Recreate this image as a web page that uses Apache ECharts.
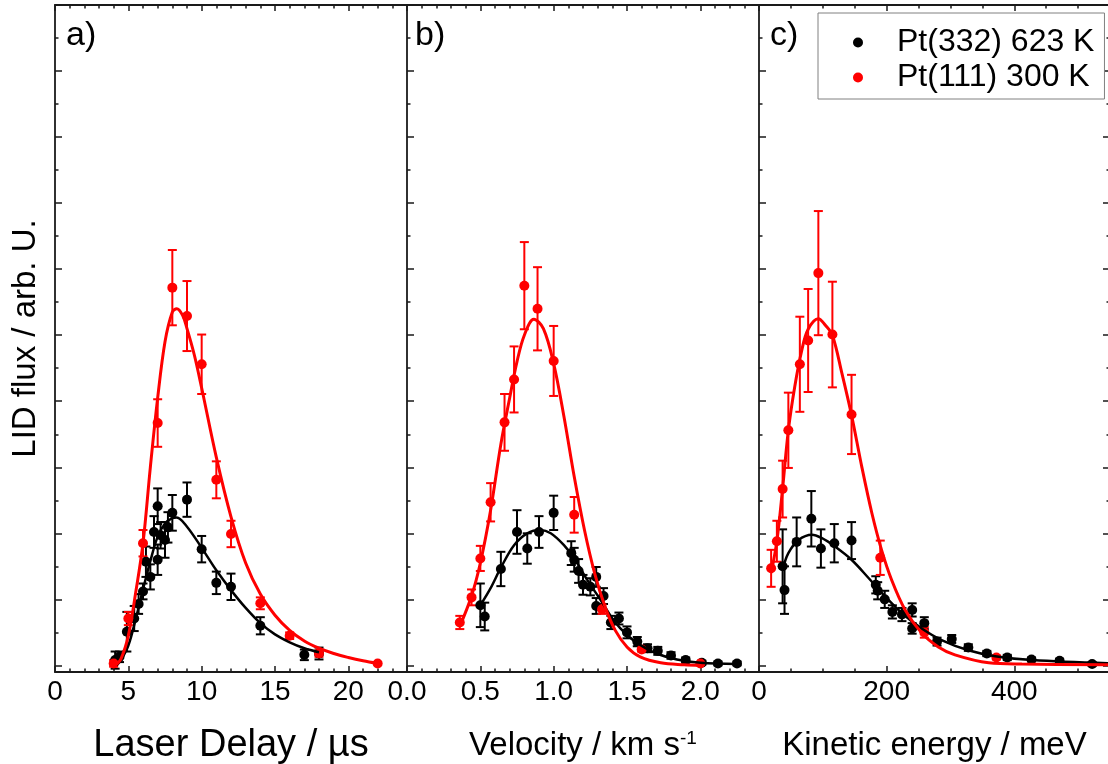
<!DOCTYPE html>
<html><head><meta charset="utf-8">
<script src="https://cdn.jsdelivr.net/npm/echarts@6/dist/echarts.min.js"></script>
<style>html,body{margin:0;padding:0;background:#fff}#c{width:1108px;height:764px}</style>
</head><body><div id="c"></div>
<script>
// ---------- Panel a: laser delay (µs) ----------
const delayX_332   = [4.1, 4.4, 4.9, 5.4, 5.7, 6.0, 6.2, 6.5, 6.75, 7.0, 7.0, 7.2, 7.5, 7.7, 8.0, 9.0, 10.0, 11.0, 12.0, 14.0, 17.0, 18.0];
const delayY_332   = [0.08, 0.13, 0.51, 0.71, 0.93, 1.12, 1.57, 1.34, 2.02, 2.41, 1.60, 1.97, 1.90, 2.09, 2.31, 2.51, 1.76, 1.25, 1.19, 0.60, 0.16, 0.18];
const delayErr_332 = [0.13, 0.08, 0.30, 0.19, 0.15, 0.12, 0.23, 0.19, 0.24, 0.27, 0.23, 0.20, 0.27, 0.23, 0.27, 0.26, 0.20, 0.17, 0.20, 0.13, 0.08, 0.09];
const delayX_111   = [4.0, 5.0, 6.0, 7.0, 8.0, 9.0, 10.0, 11.0, 12.0, 14.0, 16.0, 18.0, 22.0];
const delayY_111   = [0.03, 0.71, 1.85, 3.67, 5.72, 5.29, 4.56, 2.81, 1.99, 0.94, 0.45, 0.18, 0.03];
const delayErr_111 = [0.05, 0.10, 0.20, 0.36, 0.57, 0.53, 0.45, 0.28, 0.20, 0.09, 0.05, 0.05, 0.0];
const delayFitX_332 = [4.2, 4.5, 5.0, 5.5, 6.0, 6.5, 7.0, 7.5, 8.0, 8.3, 9.0, 10.0, 11.0, 12.0, 13.0, 14.0, 15.0, 16.0, 17.0, 18.0];
const delayFitY_332 = [0.0, 0.08, 0.30, 0.70, 1.15, 1.58, 1.95, 2.15, 2.23, 2.24, 2.10, 1.78, 1.44, 1.14, 0.87, 0.64, 0.47, 0.35, 0.26, 0.20];
const delayFitX_111 = [4.1, 4.5, 5.0, 5.5, 6.0, 6.5, 7.0, 7.5, 8.0, 8.3, 8.7, 9.0, 9.5, 10.0, 11.0, 12.0, 13.0, 14.0, 15.0, 16.0, 17.0, 18.0, 19.0, 20.0, 21.0, 22.0];
const delayFitY_111 = [0.0, 0.10, 0.45, 1.10, 1.85, 3.00, 4.05, 4.90, 5.35, 5.40, 5.30, 5.10, 4.70, 4.20, 3.15, 2.25, 1.55, 1.08, 0.76, 0.53, 0.37, 0.26, 0.18, 0.12, 0.07, 0.03];

// ---------- Panel b: velocity (km/s) ----------
const velX_332   = [0.50, 0.53, 0.64, 0.75, 0.82, 0.90, 1.00, 1.12, 1.14, 1.17, 1.20, 1.25, 1.29, 1.29, 1.34, 1.39, 1.445, 1.50, 1.57, 1.64, 1.71, 1.80, 1.90, 2.01, 2.12, 2.25];
const velY_332   = [0.91, 0.74, 1.46, 2.02, 1.77, 2.02, 2.31, 1.70, 1.60, 1.43, 1.22, 1.19, 1.34, 0.90, 1.05, 0.65, 0.71, 0.50, 0.36, 0.26, 0.22, 0.15, 0.08, 0.04, 0.03, 0.03];
const velErr_332 = [0.33, 0.21, 0.26, 0.33, 0.23, 0.24, 0.26, 0.18, 0.18, 0.18, 0.15, 0.13, 0.15, 0.12, 0.12, 0.10, 0.09, 0.09, 0.07, 0.06, 0.06, 0.05, 0.04, 0.03, 0.03, 0.03];
const velX_111   = [0.36, 0.44, 0.50, 0.57, 0.665, 0.73, 0.80, 0.89, 1.00, 1.14, 1.33, 1.60, 2.00];
const velY_111   = [0.65, 1.03, 1.62, 2.47, 3.68, 4.33, 5.75, 5.40, 4.61, 2.28, 0.85, 0.24, 0.03];
const velErr_111 = [0.10, 0.12, 0.19, 0.29, 0.43, 0.50, 0.66, 0.63, 0.53, 0.27, 0.07, 0.03, 0.02];
const velFitX_332 = [0.50, 0.57, 0.64, 0.73, 0.82, 0.91, 0.98, 1.07, 1.14, 1.23, 1.32, 1.41, 1.50, 1.59, 1.70, 1.84, 2.00, 2.25];
const velFitY_332 = [0.91, 1.17, 1.48, 1.82, 2.00, 2.05, 2.00, 1.82, 1.62, 1.29, 0.99, 0.68, 0.46, 0.31, 0.18, 0.09, 0.04, 0.02];
const velFitX_111 = [0.36, 0.44, 0.50, 0.57, 0.64, 0.70, 0.75, 0.80, 0.865, 0.93, 1.00, 1.07, 1.14, 1.21, 1.28, 1.35, 1.42, 1.50, 1.59, 1.73, 1.89, 2.00];
const velFitY_111 = [0.59, 1.05, 1.55, 2.35, 3.35, 4.05, 4.60, 5.00, 5.24, 5.10, 4.57, 3.77, 2.86, 2.05, 1.39, 0.89, 0.53, 0.28, 0.13, 0.04, 0.01, 0.0];

// ---------- Panel c: kinetic energy (meV) ----------
const enX_332   = [37, 40, 59, 82, 97, 118, 145, 183, 186, 197, 209, 224, 240, 240, 259, 279, 302, 328, 357, 389, 427, 471, 522];
const enY_332   = [1.50, 1.14, 1.87, 2.22, 1.77, 1.85, 1.89, 1.22, 1.13, 1.00, 0.81, 0.77, 0.84, 0.56, 0.64, 0.36, 0.40, 0.27, 0.18, 0.12, 0.09, 0.07, 0.02];
const enErr_332 = [0.56, 0.36, 0.37, 0.42, 0.29, 0.29, 0.28, 0.13, 0.13, 0.13, 0.10, 0.10, 0.10, 0.08, 0.09, 0.06, 0.06, 0.05, 0.04, 0.04, 0.03, 0.03, 0.03];
const enX_111   = [19, 28, 37, 46, 64, 77, 93, 115, 145, 190, 259, 372];
const enY_111   = [1.47, 1.88, 2.67, 3.56, 4.56, 4.92, 5.94, 5.01, 3.80, 1.63, 0.50, 0.12];
const enErr_111 = [0.28, 0.31, 0.43, 0.57, 0.72, 0.78, 0.94, 0.80, 0.60, 0.26, 0.08, 0.03];
const enFitX_332 = [37, 46, 62, 83, 98, 119, 145, 172, 198, 224, 255, 287, 328, 370, 428, 550];
const enFitY_332 = [1.45, 1.70, 1.90, 1.98, 1.93, 1.80, 1.60, 1.32, 1.04, 0.79, 0.56, 0.38, 0.23, 0.14, 0.08, 0.03];
const enFitX_111 = [19, 28, 37, 46, 56, 67, 77, 93, 104, 115, 130, 145, 161, 177, 192, 208, 229, 255, 281, 307, 360, 412, 550];
const enFitY_111 = [1.40, 1.88, 2.68, 3.56, 4.22, 4.77, 5.09, 5.25, 5.15, 5.00, 4.42, 3.79, 3.01, 2.30, 1.75, 1.29, 0.84, 0.49, 0.28, 0.16, 0.04, 0.02, 0.01];

// ---------- tick labels ----------
const delayTicks = [0, 5, 10, 15, 20];
const velocityTicks = [0, 0.5, 1.0, 1.5, 2.0];
const energyTicks = [0, 200, 400];
const seriesNames = ['Pt(332) 623 K', 'Pt(111) 300 K'];

const FONT = '"Liberation Sans", Arial, Helvetica, sans-serif';
const AX = '#1a1a1a';

function steps(a, b, s) { const r = []; for (let k = 0; a + k * s <= b + 1e-9; k++) r.push(+(a + k * s).toFixed(6)); return r; }
function zip2(a, b) { return a.map((v, i) => [v, b[i]]); }
function zip3(a, b, c) { return a.map((v, i) => [v, b[i], c[i]]); }

const panels = [
  { left: 55, width: 352, min: 0, max: 24, majors: delayTicks, minorStep: 1, fmt: v => String(v),
    name: 'Laser Delay / µs', nameSize: 38, nameGap: 55,
    d: [delayX_332, delayY_332, delayErr_332, delayX_111, delayY_111, delayErr_111, delayFitX_332, delayFitY_332, delayFitX_111, delayFitY_111] },
  { left: 407, width: 352, min: 0, max: 2.4, majors: velocityTicks, minorStep: 0.1, fmt: v => v.toFixed(1),
    name: 'Velocity / km s{sup|-1}', nameSize: 33, nameGap: 57,
    d: [velX_332, velY_332, velErr_332, velX_111, velY_111, velErr_111, velFitX_332, velFitY_332, velFitX_111, velFitY_111] },
  { left: 759, width: 351, min: 0, max: 550, majors: energyTicks, minorStep: 50, fmt: v => String(v),
    name: 'Kinetic energy / meV', nameSize: 33, nameGap: 57,
    d: [enX_332, enY_332, enErr_332, enX_111, enY_111, enErr_111, enFitX_332, enFitY_332, enFitX_111, enFitY_111] }
];

const YMIN = -0.1, YMAX = 10;
const yMajors = steps(0, 10, 1);
const yMinors = steps(0.5, 9.5, 1);

const grids = [], xAxes = [], yAxes = [], series = [];
panels.forEach((p, i) => {
  grids.push({ left: p.left, width: p.width, top: 5, height: 667, outerBoundsMode: 'none', containLabel: false });
});
function xAx(i, pos, ticks, len, showLine, labels) {
  const p = panels[i];
  const o = {
    type: 'value', gridIndex: i, position: pos, min: p.min, max: p.max,
    axisLine: { show: showLine, onZero: false, lineStyle: { color: AX, width: 1.8 } },
    axisTick: { show: true, inside: true, length: len, customValues: ticks, lineStyle: { color: AX, width: 1.5 } },
    axisLabel: { show: false }, splitLine: { show: false }, minorTick: { show: false }
  };
  if (labels) {
    o.axisLabel = { show: true, customValues: p.majors, formatter: p.fmt, margin: 6,
      fontSize: 28, fontFamily: FONT, color: '#000' };
    o.name = p.name; o.nameLocation = 'middle'; o.nameGap = p.nameGap;
    o.nameTextStyle = { fontSize: p.nameSize, fontFamily: FONT, color: '#000',
      rich: { sup: { fontSize: 19, fontFamily: FONT, color: '#000', verticalAlign: 'top' } } };
  }
  return o;
}
function yAx(i, pos, ticks, len, showLine, named) {
  const o = {
    type: 'value', gridIndex: i, position: pos, min: YMIN, max: YMAX,
    axisLine: { show: showLine, onZero: false, lineStyle: { color: AX, width: 1.8 } },
    axisTick: { show: true, inside: true, length: len, customValues: ticks, lineStyle: { color: AX, width: 1.5 } },
    axisLabel: { show: false }, splitLine: { show: false }, minorTick: { show: false }
  };
  if (named) {
    o.name = 'LID flux / arb. U.'; o.nameLocation = 'middle'; o.nameGap = 13;
    o.nameTextStyle = { fontSize: 33, fontFamily: FONT, color: '#000' };
  }
  return o;
}
// main axes first (indices 0..2)
panels.forEach((p, i) => xAxes.push(xAx(i, 'bottom', p.majors, 6, true, true)));
panels.forEach((p, i) => yAxes.push(yAx(i, 'left', yMajors, 7, true, i === 0)));
// decorative minor / mirrored axes
panels.forEach((p, i) => {
  const minors = steps(p.min, p.max, p.minorStep).filter(v => !p.majors.some(m => Math.abs(m - v) < 1e-6));
  xAxes.push(xAx(i, 'bottom', minors, 3.5, false, false));
  xAxes.push(xAx(i, 'top', p.majors, 6, true, false));
  xAxes.push(xAx(i, 'top', minors, 3.5, false, false));
  yAxes.push(yAx(i, 'left', yMinors, 3.5, false, false));
});
yAxes.push(yAx(2, 'right', yMajors, 7, true, false));
yAxes.push(yAx(2, 'right', yMinors, 3.5, false, false));

function errRender(color) {
  return function (params, api) {
    const x = api.value(0), y = api.value(1), e = api.value(2);
    if (!(e > 0)) return null;
    const hi = api.coord([x, y + e]), lo = api.coord([x, y - e]);
    const cap = 4.5;
    const st = { stroke: color, lineWidth: 2 };
    return { type: 'group', children: [
      { type: 'line', shape: { x1: hi[0], y1: hi[1], x2: lo[0], y2: lo[1] }, style: st },
      { type: 'line', shape: { x1: hi[0] - cap, y1: hi[1], x2: hi[0] + cap, y2: hi[1] }, style: st },
      { type: 'line', shape: { x1: lo[0] - cap, y1: lo[1], x2: lo[0] + cap, y2: lo[1] }, style: st }
    ] };
  };
}

const colors = ['#000000', '#ff0000'];
panels.forEach((p, i) => {
  const d = p.d;
  [0, 1].forEach(k => {
    const X = d[k * 3], Y = d[k * 3 + 1], E = d[k * 3 + 2];
    series.push({ type: 'custom', name: 'err' + i + k, xAxisIndex: i, yAxisIndex: i,
      renderItem: errRender(colors[k]), data: zip3(X, Y, E), encode: { x: 0, y: 1 }, silent: true, z: 2 });
    series.push({ type: 'scatter', name: seriesNames[k], xAxisIndex: i, yAxisIndex: i,
      data: zip2(X, Y), symbol: 'circle', symbolSize: 10, itemStyle: { color: colors[k], opacity: 1 }, z: 3 });
  });
  [0, 1].forEach(k => {
    series.push({ type: 'line', name: 'fit' + i + k, xAxisIndex: i, yAxisIndex: i,
      data: zip2(d[6 + k * 2], d[7 + k * 2]), showSymbol: false, symbol: 'none', smooth: 0.35,
      lineStyle: { color: colors[k], width: k === 1 ? 3 : 2.5 }, z: 4, silent: true });
  });
});

const chart = echarts.init(document.getElementById('c'), null, { renderer: 'canvas' });
chart.setOption({
  animation: false,
  backgroundColor: '#ffffff',
  grid: grids, xAxis: xAxes, yAxis: yAxes, series: series,
  legend: {
    data: seriesNames, left: 818, top: 13, orient: 'vertical', icon: 'circle',
    itemWidth: 68, itemHeight: 10, itemGap: 0, padding: [12, 10, 4, 35],
    borderColor: '#808080', borderWidth: 1, backgroundColor: '#ffffff', selectedMode: false,
    textStyle: { fontSize: 32, lineHeight: 35, fontFamily: FONT, color: '#000' }
  },
  graphic: [
    { type: 'text', left: 66, top: 19, style: { text: 'a)', fontSize: 34, fontFamily: FONT, fill: '#000' } },
    { type: 'text', left: 415, top: 19, style: { text: 'b)', fontSize: 34, fontFamily: FONT, fill: '#000' } },
    { type: 'text', left: 770, top: 19, style: { text: 'c)', fontSize: 34, fontFamily: FONT, fill: '#000' } }
  ]
});
</script></body></html>
